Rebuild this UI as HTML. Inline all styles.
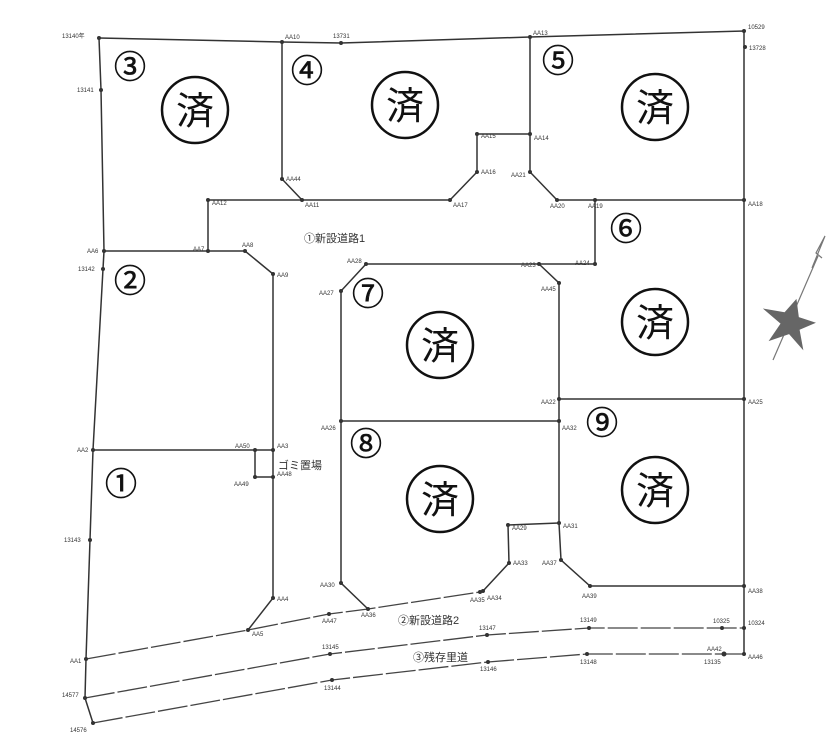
<!DOCTYPE html>
<html><head><meta charset="utf-8"><style>
html,body{margin:0;padding:0;background:#fff;}
svg{display:block;}
.t{font-family:"Liberation Sans","Noto Sans CJK JP",sans-serif;font-size:6px;fill:#333;}
.big{font-family:"Liberation Sans","Noto Sans CJK JP",sans-serif;font-size:32px;fill:#111;}
.lab{font-family:"Liberation Sans","Noto Sans CJK JP",sans-serif;font-size:11px;fill:#333;}
</style></head><body>
<svg width="839" height="750" viewBox="0 0 839 750" xmlns="http://www.w3.org/2000/svg">
<g stroke="#333" stroke-width="1.5" fill="none">
<polyline points="99,38 282,42 341,43 530,37 744,31 744,654"/>
<polyline points="99,38 101,90 104,251 103,269 93,450 90,540 86,659 85,698 93,723"/>
<polyline points="282,42 282,179 302,200 208,200 208,251"/>
<polyline points="302,200 450,200 477,172 477,134 530,134 530,37"/>
<polyline points="530,134 530,172 557,200 595,200 744,200"/>
<polyline points="104,251 208,251 245,251 273,274 273,598 248,630"/>
<polyline points="595,200 595,264 539,264 366,264 341,291 341,583 368,609"/>
<polyline points="539,264 559,283 559,523 561,560 590,586 744,586"/>
<line x1="559" y1="399" x2="744" y2="399"/>
<line x1="341" y1="421" x2="559" y2="421"/>
<line x1="93" y1="450" x2="273" y2="450"/>
<polyline points="255,450 255,477 273,477"/>
<polyline points="559,523 508,525 509,563 483,591"/>
</g>
<g stroke="#444" stroke-width="1.3" fill="none" stroke-dasharray="30,3">
<polyline points="86,659 248,630 329,614 368,609 480,592"/>
<polyline points="85,698 330,654 487,635 589,628 722,628 744,628"/>
<polyline points="93,723 332,680 488,662 587,654 724,654 744,654"/>
</g>
<g fill="#333">
<circle cx="99" cy="38" r="2"/><circle cx="282" cy="42" r="2"/><circle cx="341" cy="43" r="2"/><circle cx="530" cy="37" r="2"/><circle cx="744" cy="31" r="2"/><circle cx="745" cy="47" r="2"/>
<circle cx="101" cy="90" r="2"/><circle cx="282" cy="179" r="2"/><circle cx="302" cy="200" r="2"/><circle cx="208" cy="200" r="2"/><circle cx="450" cy="200" r="2"/><circle cx="477" cy="172" r="2"/><circle cx="477" cy="134" r="2"/><circle cx="530" cy="134" r="2"/><circle cx="530" cy="172" r="2"/><circle cx="557" cy="200" r="2"/><circle cx="595" cy="200" r="2"/><circle cx="744" cy="200" r="2"/>
<circle cx="104" cy="251" r="2"/><circle cx="208" cy="251" r="2"/><circle cx="245" cy="251" r="2"/><circle cx="273" cy="274" r="2"/><circle cx="103" cy="269" r="2"/>
<circle cx="366" cy="264" r="2"/><circle cx="539" cy="264" r="2"/><circle cx="595" cy="264" r="2"/><circle cx="559" cy="283" r="2"/><circle cx="341" cy="291" r="2"/>
<circle cx="559" cy="399" r="2"/><circle cx="744" cy="399" r="2"/><circle cx="341" cy="421" r="2"/><circle cx="559" cy="421" r="2"/>
<circle cx="93" cy="450" r="2"/><circle cx="255" cy="450" r="2"/><circle cx="273" cy="450" r="2"/><circle cx="255" cy="477" r="2"/><circle cx="273" cy="477" r="2"/>
<circle cx="273" cy="598" r="2"/><circle cx="248" cy="630" r="2"/><circle cx="341" cy="583" r="2"/><circle cx="368" cy="609" r="2"/><circle cx="329" cy="614" r="2"/>
<circle cx="480" cy="592" r="2"/><circle cx="483" cy="591" r="2"/><circle cx="509" cy="563" r="2"/><circle cx="508" cy="525" r="2"/><circle cx="559" cy="523" r="2"/><circle cx="561" cy="560" r="2"/><circle cx="590" cy="586" r="2"/><circle cx="744" cy="586" r="2"/>
<circle cx="487" cy="635" r="2"/><circle cx="589" cy="628" r="2"/><circle cx="722" cy="628" r="2"/><circle cx="744" cy="628" r="2"/>
<circle cx="86" cy="659" r="2"/><circle cx="330" cy="654" r="2"/><circle cx="488" cy="662" r="2"/><circle cx="587" cy="654" r="2"/><circle cx="724" cy="654" r="2.5"/><circle cx="744" cy="654" r="2"/>
<circle cx="85" cy="698" r="2"/><circle cx="332" cy="680" r="2"/><circle cx="93" cy="723" r="2"/><circle cx="90" cy="540" r="2"/>
</g>
<g stroke="#111" stroke-width="2.5" fill="none">
<circle cx="195" cy="110" r="33"/><circle cx="405" cy="105" r="33"/><circle cx="655" cy="107" r="33"/>
<circle cx="655" cy="322" r="33"/><circle cx="440" cy="345" r="33"/><circle cx="440" cy="499" r="33"/><circle cx="655" cy="490" r="33"/>
</g>
<g class="big" text-anchor="middle" style="font-size:38px">
<text x="195" y="124">済</text><text x="405" y="119">済</text><text x="655" y="121">済</text>
<text x="655" y="336">済</text><text x="440" y="359">済</text><text x="440" y="513">済</text><text x="655" y="504">済</text>
</g>
<g class="big" text-anchor="middle" stroke="#111" stroke-width="0.6">
<text x="130" y="78">③</text><text x="307" y="82">④</text><text x="558" y="72">⑤</text>
<text x="130" y="292">②</text><text x="626" y="240">⑥</text><text x="368" y="305">⑦</text>
<text x="602" y="434">⑨</text><text x="366" y="455">⑧</text><text x="121" y="495">①</text>
</g>
<g class="lab">
<text x="304" y="242">①新設道路1</text>
<text x="278" y="469">ゴミ置場</text>
<text x="398" y="624">②新設道路2</text>
<text x="413" y="661">③残存里道</text>
</g>
<g class="t">
<text x="62" y="38">13140年</text><text x="285" y="39">AA10</text><text x="333" y="38">13731</text><text x="533" y="35">AA13</text><text x="748" y="29">10529</text><text x="749" y="50">13728</text>
<text x="77" y="92">13141</text><text x="286" y="181">AA44</text><text x="305" y="207">AA11</text><text x="212" y="205">AA12</text><text x="453" y="207">AA17</text><text x="481" y="174">AA16</text><text x="481" y="138">AA15</text><text x="534" y="140">AA14</text><text x="511" y="177">AA21</text><text x="550" y="208">AA20</text><text x="588" y="208">AA19</text><text x="748" y="206">AA18</text>
<text x="87" y="253">AA6</text><text x="193" y="251">AA7</text><text x="242" y="247">AA8</text><text x="277" y="277">AA9</text><text x="78" y="271">13142</text>
<text x="347" y="263">AA28</text><text x="521" y="267">AA23</text><text x="575" y="265">AA24</text><text x="541" y="291">AA45</text><text x="319" y="295">AA27</text>
<text x="541" y="404">AA22</text><text x="748" y="404">AA25</text><text x="321" y="430">AA26</text><text x="562" y="430">AA32</text>
<text x="77" y="452">AA2</text><text x="235" y="448">AA50</text><text x="277" y="448">AA3</text><text x="234" y="486">AA49</text><text x="277" y="476">AA48</text>
<text x="64" y="542">13143</text><text x="277" y="601">AA4</text><text x="252" y="636">AA5</text><text x="320" y="587">AA30</text><text x="361" y="617">AA36</text><text x="322" y="623">AA47</text>
<text x="470" y="602">AA35</text><text x="487" y="600">AA34</text><text x="513" y="565">AA33</text><text x="512" y="530">AA29</text><text x="563" y="528">AA31</text><text x="542" y="565">AA37</text><text x="582" y="598">AA39</text><text x="748" y="593">AA38</text>
<text x="479" y="630">13147</text><text x="580" y="622">13149</text><text x="713" y="623">10325</text><text x="748" y="625">10324</text>
<text x="70" y="663">AA1</text><text x="322" y="649">13145</text><text x="480" y="671">13146</text><text x="580" y="664">13148</text><text x="707" y="651">AA42</text><text x="704" y="664">13135</text><text x="748" y="659">AA46</text>
<text x="62" y="697">14577</text><text x="324" y="690">13144</text><text x="70" y="732">14576</text>
</g>
<g stroke="#777" fill="none" stroke-width="1.2">
<line x1="773" y1="360" x2="818" y2="256"/>
<polyline points="818,256 812,268 825,236 816,253 822,258"/>
</g>
<polygon points="790,298 797,315 815,316 801,327 810,346 792,334 774,346 781,326 760,316 782,314" fill="#666" transform="rotate(15 790 323)"/>
</svg>
</body></html>
